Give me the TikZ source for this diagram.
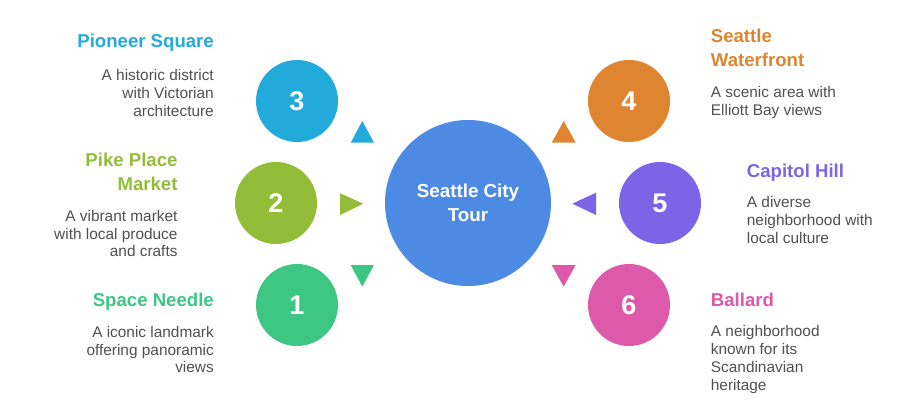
\documentclass[tikz,border=0pt]{standalone}
\usepackage{fontspec}
\setmainfont{Liberation Sans}
\definecolor{cblue}{HTML}{4C8AE4}
\definecolor{cthree}{HTML}{21AADA}
\definecolor{ctwo}{HTML}{93BD39}
\definecolor{cone}{HTML}{3DC684}
\definecolor{cfour}{HTML}{DF8531}
\definecolor{cfive}{HTML}{7C64E7}
\definecolor{csix}{HTML}{DD59A9}
\definecolor{txtgray}{HTML}{505050}
\begin{document}
\begin{tikzpicture}[x=1pt,y=-1pt,
  num/.style={circle, fill=#1, minimum size=82pt, inner sep=0pt, text=white, font=\bfseries\fontsize{27}{27}\selectfont},
  ttl/.style={text=#1, font=\bfseries\fontsize{18.6}{24}\selectfont, inner sep=0pt},
  dsc/.style={text=txtgray, font=\fontsize{15.4}{17.7}\selectfont, inner sep=0pt},
  tri/.style={fill=#1}]
\useasboundingbox (0,0) rectangle (924,402);
\node[circle, fill=cblue, minimum size=166pt, inner sep=0pt, text=white, font=\bfseries\fontsize{18.8}{23.7}\selectfont, align=center] (hub) at (468,203) {Seattle City\\Tour};
% circles
\node[num=cthree] (n3) at (297,101) {3};
\node[num=ctwo] (n2) at (276,203) {2};
\node[num=cone] (n1) at (297,305) {1};
\node[num=cfour] (n4) at (629,101) {4};
\node[num=cfive] (n5) at (660,203) {5};
\node[num=csix] (n6) at (629,305) {6};
% triangles
\fill[tri=cthree] (362.3,121) -- (374,142.7) -- (350.7,142.7) -- cycle;
\fill[tri=ctwo] (340,193.3) -- (363.3,203.7) -- (340,215) -- cycle;
\fill[tri=cone] (350.7,265) -- (374,265) -- (362.3,286.7) -- cycle;
\fill[tri=cfour] (563.7,121) -- (575.7,142.7) -- (551.7,142.7) -- cycle;
\fill[tri=cfive] (596,192.7) -- (572.3,203.7) -- (596,215) -- cycle;
\fill[tri=csix] (551.7,265) -- (575.7,265) -- (563.7,286.7) -- cycle;
% left texts (base anchor = baseline of last line)
\node[ttl=cthree, anchor=base east] (t3) at (214,47.3) {Pioneer Square};
\node[dsc, anchor=base east, align=right] (d3) at (214,116) {A historic district\\with Victorian\\architecture};
\node[ttl=ctwo, anchor=base east, align=right] (t2) at (177.7,190) {Pike Place\\Market};
\node[dsc, anchor=base east, align=right] (d2) at (177.7,256.7) {A vibrant market\\with local produce\\and crafts};
\node[ttl=cone, anchor=base east] (t1) at (214,306.7) {Space Needle};
\node[dsc, anchor=base east, align=right] (d1) at (214,372.7) {A iconic landmark\\offering panoramic\\views};
% right texts
\node[ttl=cfour, anchor=base west, align=left] (t4) at (710.7,66.7) {Seattle\\Waterfront};
\node[dsc, anchor=base west, align=left] (d4) at (710.7,115) {A scenic area with\\Elliott Bay views};
\node[ttl=cfive, anchor=base west] (t5) at (746.7,177.7) {Capitol Hill};
\node[dsc, anchor=base west, align=left] (d5) at (746.7,243.3) {A diverse\\neighborhood with\\local culture};
\node[ttl=csix, anchor=base west] (t6) at (710.7,306.7) {Ballard};
\node[dsc, anchor=base west, align=left] (d6) at (710.7,390) {A neighborhood\\known for its\\Scandinavian\\heritage};
\end{tikzpicture}
\end{document}
